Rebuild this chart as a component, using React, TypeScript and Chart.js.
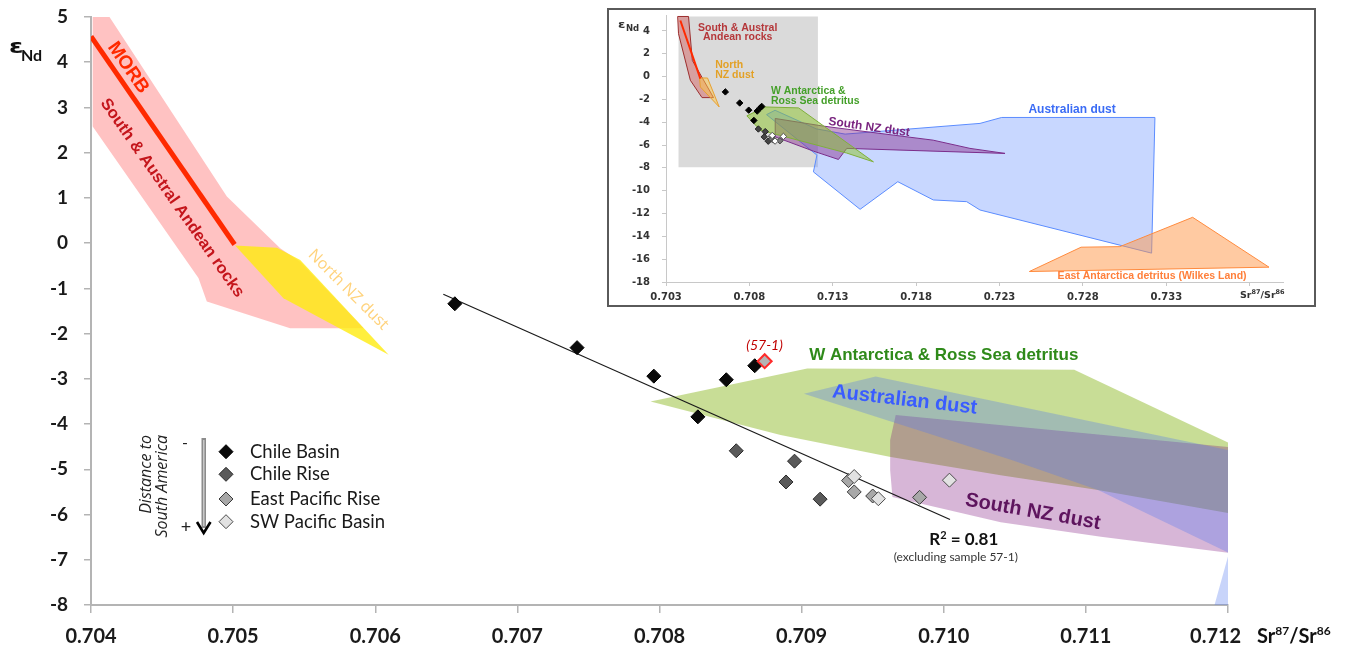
import React, { useEffect, useRef } from 'react';
import { Chart, registerables } from 'chart.js';

Chart.register(...registerables);

type Pt = { x: number; y: number };

// ===== Main chart axes =====
const xTickValues = [0.704, 0.705, 0.706, 0.707, 0.708, 0.709, 0.71, 0.711, 0.712];
const yTickValues = [-8, -7, -6, -5, -4, -3, -2, -1, 0, 1, 2, 3, 4, 5];

// ===== Samples (Sr87/Sr86 , eNd) =====
const chileBasin: Pt[] = [
  { x: 0.70656, y: -1.34 },
  { x: 0.70742, y: -2.31 },
  { x: 0.70796, y: -2.94 },
  { x: 0.70847, y: -3.02 },
  { x: 0.70827, y: -3.84 },
  { x: 0.70867, y: -2.71 },
];
const chileRise: Pt[] = [
  { x: 0.70854, y: -4.59 },
  { x: 0.70895, y: -4.82 },
  { x: 0.70889, y: -5.28 },
  { x: 0.70913, y: -5.66 },
];
const eastPacificRise: Pt[] = [
  { x: 0.70933, y: -5.25 },
  { x: 0.70937, y: -5.5 },
  { x: 0.7095, y: -5.59 },
  { x: 0.70983, y: -5.62 },
];
const swPacificBasin: Pt[] = [
  { x: 0.70937, y: -5.16 },
  { x: 0.70954, y: -5.65 },
  { x: 0.71004, y: -5.24 },
];
const sample57_1: Pt[] = [{ x: 0.70874, y: -2.61 }];

// ===== Lines =====
const morbLine: Pt[] = [{ x: 0.704, y: 4.57 }, { x: 0.70501, y: -0.03 }];
const regressionLine: Pt[] = [{ x: 0.706479, y: -1.13 }, { x: 0.710044, y: -6.11 }];

// ===== Source fields (main chart) =====
const andeanRocks: Pt[] = [
  { x: 0.704012, y: 5.11 }, { x: 0.704099, y: 5.15 }, { x: 0.704956, y: 1.03 },
  { x: 0.705331, y: -0.11 }, { x: 0.705472, y: -0.41 }, { x: 0.705918, y: -1.88 },
  { x: 0.705401, y: -1.88 }, { x: 0.704815, y: -1.29 }, { x: 0.704756, y: -0.77 },
  { x: 0.704012, y: 2.58 },
];
const northNZDust: Pt[] = [
  { x: 0.705014, y: -0.05 }, { x: 0.705308, y: -0.1 }, { x: 0.705472, y: -0.37 },
  { x: 0.706094, y: -2.47 }, { x: 0.705354, y: -1.22 },
];
const wAntarcticaRoss: Pt[] = [
  { x: 0.707937, y: -3.5 }, { x: 0.70904, y: -2.77 }, { x: 0.710918, y: -2.8 },
  { x: 0.712007, y: -4.42 }, { x: 0.7125, y: -5.13 }, { x: 0.7125, y: -6.25 },
  { x: 0.712007, y: -5.97 }, { x: 0.711085, y: -5.46 }, { x: 0.710401, y: -5.13 },
  { x: 0.709627, y: -4.73 }, { x: 0.708852, y: -4.24 },
];
const australianDust: Pt[] = [
  { x: 0.709016, y: -3.33 }, { x: 0.709521, y: -2.95 }, { x: 0.712007, y: -4.58 },
  { x: 0.7125, y: -4.9 }, { x: 0.7125, y: -9 }, { x: 0.711837, y: -8.77 },
  { x: 0.712007, y: -6.85 }, { x: 0.711085, y: -5.46 }, { x: 0.710472, y: -4.79 },
];
const southNZDust: Pt[] = [
  { x: 0.709662, y: -3.8 }, { x: 0.712007, y: -4.51 }, { x: 0.7125, y: -4.6 },
  { x: 0.7125, y: -7.0 }, { x: 0.712007, y: -6.85 }, { x: 0.711106, y: -6.49 },
  { x: 0.710401, y: -6.17 }, { x: 0.709639, y: -5.61 }, { x: 0.709623, y: -5.02 },
  { x: 0.709623, y: -4.35 },
];

// ===== Inset chart =====
const insetXTicks = [0.703, 0.708, 0.713, 0.718, 0.723, 0.728, 0.733, 0.738];
const insetYTicks = [-18, -16, -14, -12, -10, -8, -6, -4, -2, 0, 2, 4];
const insetMainWindow: Pt[] = [
  { x: 0.70375, y: 5.27 }, { x: 0.71211, y: 5.27 }, { x: 0.71211, y: -7.95 }, { x: 0.70375, y: -7.95 },
];
const insetAndean: Pt[] = [
  { x: 0.7037, y: 5.27 }, { x: 0.70435, y: 5.27 }, { x: 0.70458, y: 1.42 }, { x: 0.70585, y: -1.84 },
  { x: 0.70516, y: -1.84 }, { x: 0.70446, y: -0.32 }, { x: 0.70375, y: 3.76 },
];
const insetMorb: Pt[] = [{ x: 0.70386, y: 4.92 }, { x: 0.70506, y: -0.17 }];
const insetNorthNZ: Pt[] = [
  { x: 0.70501, y: -0.12 }, { x: 0.70549, y: -0.12 }, { x: 0.70595, y: -1.78 },
  { x: 0.70619, y: -2.66 }, { x: 0.70506, y: -0.91 },
];
const insetWAntarctica: Pt[] = [
  { x: 0.70785, y: -3.44 }, { x: 0.70895, y: -2.66 }, { x: 0.71095, y: -2.74 },
  { x: 0.71544, y: -7.47 }, { x: 0.71384, y: -6.7 }, { x: 0.70865, y: -4.69 },
];
const insetSouthNZ: Pt[] = [
  { x: 0.70955, y: -3.67 }, { x: 0.71244, y: -4.34 }, { x: 0.71524, y: -4.87 },
  { x: 0.71902, y: -5.57 }, { x: 0.72123, y: -6.29 }, { x: 0.72333, y: -6.73 },
  { x: 0.71384, y: -6.29 }, { x: 0.71334, y: -7.26 }, { x: 0.71184, y: -6.53 },
  { x: 0.70955, y: -5.28 },
];
const insetAustralian: Pt[] = [
  { x: 0.70903, y: -3.33 }, { x: 0.70954, y: -2.95 }, { x: 0.71201, y: -4.58 },
  { x: 0.71374, y: -5.04 }, { x: 0.72183, y: -4.1 }, { x: 0.72313, y: -3.58 },
  { x: 0.73232, y: -3.58 }, { x: 0.73212, y: -15.47 }, { x: 0.72183, y: -11.69 },
  { x: 0.72103, y: -10.96 }, { x: 0.71903, y: -10.81 }, { x: 0.7169, y: -9.21 },
  { x: 0.71464, y: -11.63 }, { x: 0.71184, y: -8.35 }, { x: 0.71205, y: -6.88 },
];
const insetEastAntarctica: Pt[] = [
  { x: 0.72479, y: -17.08 }, { x: 0.72789, y: -14.95 }, { x: 0.73022, y: -14.9 },
  { x: 0.73458, y: -12.33 }, { x: 0.73916, y: -16.7 },
];

// ===== Legend =====
const legendLabels = ['Chile Basin', 'Chile Rise', 'East Pacific Rise', 'SW Pacific Basin'];
const legendFills = ['#0a0a0a', '#5a5a5a', '#a8a8a8', '#e2e2e2'];
const legendBorders = ['#000000', '#2a2a2a', '#3a3a3a', '#4a4a4a'];

// ---------- helpers ----------
const closed = (p: Pt[]) => [...p, p[0]];

function poly(data: Pt[], fill: string, order: number, border = 'rgba(0,0,0,0)', bw = 0) {
  return {
    type: 'line' as const,
    data: closed(data),
    backgroundColor: fill,
    borderColor: border,
    borderWidth: bw,
    fill: 'shape',
    pointRadius: 0,
    pointHoverRadius: 0,
    tension: 0,
    order,
    clip: 0,
  };
}
function line(data: Pt[], color: string, width: number, order: number) {
  return {
    type: 'line' as const,
    data,
    borderColor: color,
    borderWidth: width,
    fill: false,
    pointRadius: 0,
    pointHoverRadius: 0,
    tension: 0,
    order,
    clip: 0,
  };
}
function points(data: Pt[], fill: string, border: string, radius: number, order: number, bw = 1) {
  return {
    type: 'line' as const,
    data,
    showLine: false,
    fill: false,
    pointStyle: 'rectRot',
    pointRadius: radius,
    pointHoverRadius: radius,
    pointBackgroundColor: fill,
    pointBorderColor: border,
    pointBorderWidth: bw,
    order,
    clip: false,
  };
}

type Part = { t: string; font: string; color: string; dy?: number };
function drawRich(ctx: CanvasRenderingContext2D, parts: Part[], x: number, y: number, angle = 0, align = 'center', baseline: CanvasTextBaseline = 'middle') {
  ctx.save();
  ctx.translate(x, y);
  if (angle) ctx.rotate((angle * Math.PI) / 180);
  ctx.textBaseline = baseline;
  ctx.textAlign = 'left';
  let total = 0;
  for (const p of parts) {
    ctx.font = p.font;
    total += ctx.measureText(p.t).width;
  }
  let cx = align === 'left' ? 0 : align === 'right' ? -total : -total / 2;
  for (const p of parts) {
    ctx.font = p.font;
    ctx.fillStyle = p.color;
    ctx.fillText(p.t, cx, p.dy || 0);
    cx += ctx.measureText(p.t).width;
  }
  ctx.restore();
}

type Label = { x: number; y: number; angle?: number; align?: string; baseline?: CanvasTextBaseline; parts: Part[] };

const mainLabels: Label[] = [
  { x: 0.704261, y: 3.88, angle: 55, parts: [{ t: 'MORB', font: 'bold 19px "Liberation Sans"', color: '#ff2a00' }] },
  { x: 0.70457, y: 1.0, angle: 55, parts: [{ t: 'South & Austral Andean rocks', font: 'bold 16.5px "Liberation Sans"', color: '#c4161c' }] },
  { x: 0.70581, y: -1.03, angle: 45, parts: [{ t: 'North NZ dust', font: '16px "Open Sans"', color: '#ffd27a' }] },
  { x: 0.71, y: -2.47, parts: [{ t: 'W Antarctica & Ross Sea detritus', font: 'bold 17px "Liberation Sans"', color: '#2f8a1a' }] },
  { x: 0.709725, y: -3.47, angle: 6.5, parts: [{ t: 'Australian dust', font: 'bold 20px "Liberation Sans"', color: '#3a5cff' }] },
  { x: 0.710627, y: -5.94, angle: 10, parts: [{ t: 'South NZ dust', font: 'bold 20px "Liberation Sans"', color: '#5e145e' }] },
  { x: 0.708739, y: -2.27, parts: [{ t: '(57-1)', font: 'italic 14px Lato', color: '#c00000' }] },
  {
    x: 0.710141, y: -6.67, baseline: 'alphabetic',
    parts: [
      { t: 'R', font: 'bold 17px Lato', color: '#111' },
      { t: '2', font: 'bold 11px Lato', color: '#111', dy: -6 },
      { t: ' = 0.81', font: 'bold 17px Lato', color: '#111' },
    ],
  },
  { x: 0.710085, y: -6.94, parts: [{ t: '(excluding sample 57-1)', font: '12px Lato', color: '#333' }] },
];

const insetLabels: Label[] = [
  { x: 0.7073, y: 4.22, parts: [{ t: 'South & Austral', font: 'bold 10.5px "Liberation Sans"', color: '#b5373a' }] },
  { x: 0.7073, y: 3.43, parts: [{ t: 'Andean rocks', font: 'bold 10.5px "Liberation Sans"', color: '#b5373a' }] },
  { x: 0.70595, y: 0.99, align: 'left', parts: [{ t: 'North', font: 'bold 10.5px "Liberation Sans"', color: '#e3a126' }] },
  { x: 0.70595, y: 0.11, align: 'left', parts: [{ t: 'NZ dust', font: 'bold 10.5px "Liberation Sans"', color: '#e3a126' }] },
  { x: 0.70929, y: -1.29, align: 'left', parts: [{ t: 'W Antarctica &', font: 'bold 10.5px "Liberation Sans"', color: '#45a02a' }] },
  { x: 0.70929, y: -2.16, align: 'left', parts: [{ t: 'Ross Sea detritus', font: 'bold 10.5px "Liberation Sans"', color: '#45a02a' }] },
  { x: 0.71518, y: -4.43, angle: 8, parts: [{ t: 'South NZ dust', font: 'bold 12px "Liberation Sans"', color: '#7a2580' }] },
  { x: 0.72735, y: -2.86, parts: [{ t: 'Australian dust', font: 'bold 12px "Liberation Sans"', color: '#3b6cf5' }] },
  { x: 0.73215, y: -17.46, parts: [{ t: 'East Antarctica detritus (Wilkes Land)', font: 'bold 10.5px "Liberation Sans"', color: '#ff7f3a' }] },
];

const AXIS_GRAY = '#b4b4b4';

export default function App() {
  const mainRef = useRef<HTMLCanvasElement>(null);
  const insetRef = useRef<HTMLCanvasElement>(null);

  useEffect(() => {
    const mainOverlay = {
      id: 'mainOverlay',
      afterDatasetsDraw(chart: any) {
        const ctx: CanvasRenderingContext2D = chart.ctx;
        const xs = chart.scales.x;
        const ys = chart.scales.y;
        for (const a of mainLabels) {
          drawRich(ctx, a.parts, xs.getPixelForValue(a.x), ys.getPixelForValue(a.y), a.angle || 0, a.align || 'center', a.baseline || 'middle');
        }
        // y title  eNd
        ctx.save();
        ctx.fillStyle = '#111';
        ctx.textBaseline = 'alphabetic';
        ctx.textAlign = 'left';
        ctx.translate(9, 53);
        ctx.scale(1.3, 1);
        ctx.font = 'bold 20px "DejaVu Sans"';
        ctx.fillText('ε', 0, 0);
        ctx.restore();
        ctx.save();
        ctx.fillStyle = '#111';
        ctx.font = 'bold 16px Lato';
        ctx.textBaseline = 'alphabetic';
        ctx.fillText('Nd', 21, 61);
        ctx.restore();
        // x title Sr87/Sr86
        drawRich(ctx, [
          { t: 'Sr', font: 'bold 20px Lato', color: '#111' },
          { t: '87', font: 'bold 12px Lato', color: '#111', dy: -8 },
          { t: '/Sr', font: 'bold 20px Lato', color: '#111' },
          { t: '86', font: 'bold 12px Lato', color: '#111', dy: -8 },
        ], 1257, 643, 0, 'left', 'alphabetic');

        // legend
        const ly = [451.7, 474.3, 499, 521.7];
        ctx.save();
        for (let i = 0; i < legendLabels.length; i++) {
          const cx = 226, cy = ly[i], r = 7;
          ctx.beginPath();
          ctx.moveTo(cx - r, cy);
          ctx.lineTo(cx, cy - r);
          ctx.lineTo(cx + r, cy);
          ctx.lineTo(cx, cy + r);
          ctx.closePath();
          ctx.fillStyle = legendFills[i];
          ctx.fill();
          ctx.lineWidth = 1;
          ctx.strokeStyle = legendBorders[i];
          ctx.stroke();
          ctx.font = '18.5px Lato';
          ctx.fillStyle = '#1a1a1a';
          ctx.textBaseline = 'middle';
          ctx.textAlign = 'left';
          ctx.fillText(legendLabels[i], 250, cy);
        }
        // arrow
        ctx.fillStyle = '#8c8c8c';
        ctx.fillRect(201.5, 438, 4.5, 90);
        ctx.fillStyle = '#d8d8d8';
        ctx.fillRect(203.2, 440, 1.2, 86);
        ctx.strokeStyle = '#000';
        ctx.lineWidth = 2.6;
        ctx.beginPath();
        ctx.moveTo(197, 522);
        ctx.lineTo(203.7, 533);
        ctx.lineTo(210.5, 522);
        ctx.stroke();
        ctx.fillStyle = '#222';
        ctx.font = '16px Lato';
        ctx.textAlign = 'center';
        ctx.fillText('-', 185, 443);
        ctx.font = '18px Lato';
        ctx.fillText('+', 186, 527);
        // rotated caption
        ctx.font = 'italic 16px "Open Sans"';
        ctx.fillStyle = '#222';
        ctx.textAlign = 'right';
        ctx.textBaseline = 'middle';
        ctx.translate(146, 435);
        ctx.rotate(-Math.PI / 2);
        ctx.fillText('Distance to', 0, 0);
        ctx.fillText('South America', 0, 16.5);
        ctx.restore();
      },
    };

    const main = new Chart(mainRef.current as HTMLCanvasElement, {
      type: 'line',
      data: {
        datasets: [
          points(sample57_1, '#b4b4b4', '#ff2a2a', 7, 0, 2),
          points(swPacificBasin, legendFills[3], legendBorders[3], 7, 1),
          points(eastPacificRise, legendFills[2], legendBorders[2], 7, 2),
          points(chileRise, legendFills[1], legendBorders[1], 7, 3),
          points(chileBasin, legendFills[0], legendBorders[0], 7, 4),
          line(regressionLine, '#1a1a1a', 1.2, 5),
          line(morbLine, '#ff2a00', 5, 6),
          poly(australianDust, 'rgba(83,121,239,0.32)', 7),
          poly(southNZDust, 'rgba(122,12,122,0.3)', 8),
          poly(wAntarcticaRoss, 'rgba(145,188,45,0.5)', 9),
          poly(northNZDust, 'rgba(255,236,20,0.82)', 10),
          poly(andeanRocks, 'rgba(255,153,153,0.6)', 11),
        ] as any,
      },
      options: {
        responsive: false,
        animation: false,
        devicePixelRatio: 1,
        events: [],
        layout: { padding: { left: 0, right: 124, top: 17, bottom: 0 } },
        plugins: { legend: { display: false }, tooltip: { enabled: false } },
        scales: {
          x: {
            type: 'linear',
            min: 0.704,
            max: 0.712,
            afterFit: (s: any) => { s.height = 45; },
            afterBuildTicks: (s: any) => { s.ticks = xTickValues.map((v) => ({ value: v })); },
            ticks: {
              callback: (v: any) => (Number(v) > 0.7115 ? Number(v).toFixed(3) + '\u2003  ' : Number(v).toFixed(3)),
              font: { family: 'Lato', size: 20, weight: 'bold' },
              color: '#1a1a1a',
              padding: 12,
              maxRotation: 0,
              autoSkip: false,
            },
            grid: { display: true, drawOnChartArea: false, drawTicks: true, tickLength: 8, color: AXIS_GRAY, lineWidth: 1.5 },
            border: { display: true, color: AXIS_GRAY, width: 2 },
          },
          y: {
            type: 'linear',
            min: -8,
            max: 5,
            afterFit: (s: any) => { s.width = 91; s.paddingTop = 0; s.paddingBottom = 0; },
            afterBuildTicks: (s: any) => { s.ticks = yTickValues.map((v) => ({ value: v })); },
            ticks: {
              callback: (v: any) => String(v),
              font: { family: 'Lato', size: 19, weight: 'bold' },
              color: '#1a1a1a',
              padding: 16,
              autoSkip: false,
            },
            grid: { display: true, drawOnChartArea: false, drawTicks: true, tickLength: 7, color: AXIS_GRAY, lineWidth: 1.5 },
            border: { display: true, color: AXIS_GRAY, width: 2 },
          },
        },
      } as any,
      plugins: [mainOverlay],
    });

    const insetOverlay = {
      id: 'insetOverlay',
      afterDatasetsDraw(chart: any) {
        const ctx: CanvasRenderingContext2D = chart.ctx;
        const xs = chart.scales.x;
        const ys = chart.scales.y;
        for (const a of insetLabels) {
          drawRich(ctx, a.parts, xs.getPixelForValue(a.x), ys.getPixelForValue(a.y), a.angle || 0, a.align || 'center', a.baseline || 'middle');
        }
        drawRich(ctx, [
          { t: 'Sr', font: 'bold 9.5px "DejaVu Sans"', color: '#333' },
          { t: '87', font: 'bold 6.5px "DejaVu Sans"', color: '#333', dy: -4 },
          { t: '/Sr', font: 'bold 9.5px "DejaVu Sans"', color: '#333' },
          { t: '86', font: 'bold 6.5px "DejaVu Sans"', color: '#333', dy: -4 },
        ], 631, 288, 0, 'left', 'alphabetic');
        ctx.save();
        ctx.fillStyle = '#333';
        ctx.textBaseline = 'alphabetic';
        ctx.textAlign = 'left';
        ctx.translate(9, 18);
        ctx.scale(1.2, 1);
        ctx.font = 'bold 11px "DejaVu Sans"';
        ctx.fillText('ε', 0, 0);
        ctx.restore();
        ctx.save();
        ctx.fillStyle = '#333';
        ctx.font = 'bold 8.5px "DejaVu Sans"';
        ctx.fillText('Nd', 17, 21);
        ctx.restore();
      },
    };

    const inset = new Chart(insetRef.current as HTMLCanvasElement, {
      type: 'line',
      data: {
        datasets: [
          points(sample57_1, '#000', '#000', 3.2, 0),
          points(swPacificBasin, '#ffffff', '#555', 3.2, 1),
          points(eastPacificRise, '#7a7a7a', '#444', 3.2, 2),
          points(chileRise, '#444', '#222', 3.2, 3),
          points(chileBasin, '#000', '#000', 3.2, 4),
          line(insetMorb, '#ff2a00', 2, 5),
          poly(insetNorthNZ, 'rgba(255,200,70,0.5)', 6, '#e8a030', 1),
          poly(insetAndean, 'rgba(210,70,70,0.4)', 7, '#9c2e2e', 1),
          poly(insetWAntarctica, 'rgba(140,195,40,0.5)', 8, '#7fb03a', 1),
          poly(insetSouthNZ, 'rgba(135,45,140,0.45)', 9, '#7b2d8b', 1),
          poly(insetEastAntarctica, 'rgba(255,150,70,0.5)', 10, '#ff8a3d', 1),
          poly(insetAustralian, 'rgba(110,150,255,0.38)', 11, '#5b8cff', 1),
          poly(insetMainWindow, '#dadada', 12),
        ] as any,
      },
      options: {
        responsive: false,
        animation: false,
        devicePixelRatio: 1,
        events: [],
        layout: { padding: { left: 0, right: 31, top: 5, bottom: 0 } },
        plugins: { legend: { display: false }, tooltip: { enabled: false } },
        scales: {
          x: {
            type: 'linear',
            min: 0.703,
            max: 0.74,
            afterFit: (s: any) => { s.height = 23; },
            afterBuildTicks: (s: any) => { s.ticks = insetXTicks.map((v) => ({ value: v })); },
            ticks: {
              callback: (v: any) => (Number(v) > 0.736 ? '' : Number(v).toFixed(3)),
              font: { family: 'DejaVu Sans', size: 10, weight: 'bold' },
              color: '#333',
              padding: 5,
              maxRotation: 0,
              autoSkip: false,
            },
            grid: { display: true, drawOnChartArea: false, drawTicks: true, tickLength: 4, color: '#c8c8c8', lineWidth: 1 },
            border: { display: true, color: '#c8c8c8', width: 1 },
          },
          y: {
            type: 'linear',
            min: -18,
            max: 5.4,
            afterFit: (s: any) => { s.width = 57; s.paddingTop = 0; s.paddingBottom = 0; },
            afterBuildTicks: (s: any) => { s.ticks = insetYTicks.map((v) => ({ value: v })); },
            ticks: {
              callback: (v: any) => String(v),
              font: { family: 'DejaVu Sans', size: 10, weight: 'bold' },
              color: '#333',
              padding: 12,
              autoSkip: false,
            },
            grid: { display: true, drawOnChartArea: false, drawTicks: true, tickLength: 4, color: '#c8c8c8', lineWidth: 1 },
            border: { display: true, color: '#c8c8c8', width: 1 },
          },
        },
      } as any,
      plugins: [insetOverlay],
    });

    return () => {
      main.destroy();
      inset.destroy();
    };
  }, []);

  return (
    <div style={{ position: 'absolute', left: 0, top: 0, width: 1352, height: 650, background: '#fff', overflow: 'hidden' }}>
      <canvas ref={mainRef} width={1352} height={650} style={{ position: 'absolute', left: 0, top: 0 }} />
      <div
        style={{
          position: 'absolute', left: 607, top: 8, width: 709, height: 299,
          border: '2px solid #5a5a5a', boxSizing: 'border-box', background: '#fff',
        }}
      >
        <canvas ref={insetRef} width={705} height={295} style={{ display: 'block' }} />
      </div>
    </div>
  );
}
